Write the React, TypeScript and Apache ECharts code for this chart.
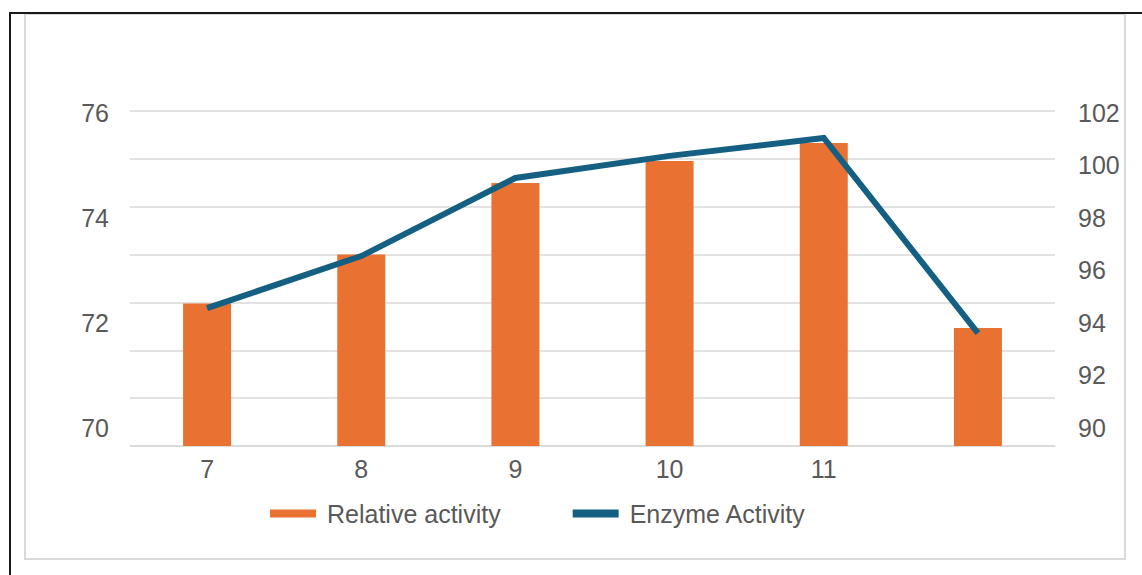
import React, { useEffect, useRef } from "react";
import * as echarts from "echarts";

const categories = ["7", "8", "9", "10", "11", "12"];
const xTickLabels = ["7", "8", "9", "10", "11", ""];
const relativeActivity = [72.37, 73.3, 74.66, 75.08, 75.42, 71.9];
const enzymeActivity = [94.56, 96.54, 99.51, 100.35, 101.03, 93.61];
const leftTicks = { min: 70, max: 76, interval: 2 };
const rightTicks = { min: 90, max: 102, interval: 2 };

// layout geometry (pixels)
const GRID_LEFT = 130;
const GRID_RIGHT_EDGE = 1055;
const PLOT_TOP = 111;
const PLOT_BOTTOM = 446;
const LABEL_TOP = 112.5;
const LABEL_BOTTOM = 428;

function extendRange(lo: number, hi: number) {
  const perUnit = (LABEL_BOTTOM - LABEL_TOP) / (hi - lo);
  return {
    min: lo - (PLOT_BOTTOM - LABEL_BOTTOM) / perUnit,
    max: hi + (LABEL_TOP - PLOT_TOP) / perUnit,
  };
}

const TEXT = "#595959";
const FONT = "Liberation Sans, Arial, sans-serif";
const FS = 25;

export default function App() {
  const ref = useRef<HTMLDivElement>(null);
  useEffect(() => {
    if (!ref.current) return;
    const chart = echarts.init(ref.current, undefined, { renderer: "svg" });
    const barRange = extendRange(leftTicks.min, leftTicks.max);
    const lineRange = extendRange(rightTicks.min, rightTicks.max);
    const gridWidth = GRID_RIGHT_EDGE - GRID_LEFT;
    chart.setOption({
      animation: false,
      backgroundColor: "#ffffff",
      textStyle: { fontFamily: FONT },
      graphic: [
        {
          type: "rect",
          shape: { x: 25, y: 14, width: 1100, height: 545 },
          style: { fill: "none", stroke: "#d9d9d9", lineWidth: 2 },
          z: 0,
        },
        {
          type: "line",
          shape: { x1: 9, y1: 13, x2: 1142, y2: 13 },
          style: { stroke: "#1a1a1a", lineWidth: 2 },
          z: 1,
        },
        {
          type: "line",
          shape: { x1: 10, y1: 12, x2: 10, y2: 575 },
          style: { stroke: "#1a1a1a", lineWidth: 2 },
          z: 1,
        },
      ],
      grid: [
        { left: GRID_LEFT, width: gridWidth, top: PLOT_TOP, height: PLOT_BOTTOM - PLOT_TOP },
        { left: GRID_LEFT, width: gridWidth, top: LABEL_TOP, height: LABEL_BOTTOM - LABEL_TOP },
      ],
      xAxis: [
        {
          type: "category",
          gridIndex: 0,
          data: categories,
          boundaryGap: true,
          axisLine: { lineStyle: { color: "#d9d9d9", width: 1.5 } },
          axisTick: { show: false },
          axisLabel: {
            color: TEXT,
            fontSize: FS,
            fontFamily: FONT,
            margin: 10,
            formatter: (_v: string, i: number) => xTickLabels[i],
          },
        },
        { type: "category", gridIndex: 1, data: categories, show: false },
      ],
      yAxis: [
        {
          type: "value",
          gridIndex: 0,
          min: barRange.min,
          max: barRange.max,
          show: false,
          splitLine: { show: false },
        },
        {
          type: "value",
          gridIndex: 0,
          min: lineRange.min,
          max: lineRange.max,
          show: false,
          splitLine: { show: false },
        },
        {
          type: "value",
          gridIndex: 0,
          min: 0,
          max: 7,
          interval: 1,
          axisLine: { show: false },
          axisTick: { show: false },
          axisLabel: { show: false },
          splitLine: { show: true, lineStyle: { color: "#d9d9d9", width: 1.5 } },
        },
        {
          type: "value",
          gridIndex: 1,
          position: "left",
          min: leftTicks.min,
          max: leftTicks.max,
          interval: leftTicks.interval,
          axisLine: { show: false },
          axisTick: { show: false },
          splitLine: { show: false },
          axisLabel: { color: TEXT, fontSize: FS, fontFamily: FONT, margin: 21 },
        },
        {
          type: "value",
          gridIndex: 1,
          position: "right",
          min: rightTicks.min,
          max: rightTicks.max,
          interval: rightTicks.interval,
          axisLine: { show: false },
          axisTick: { show: false },
          splitLine: { show: false },
          axisLabel: { color: TEXT, fontSize: FS, fontFamily: FONT, margin: 23 },
        },
      ],
      legend: {
        left: 265,
        top: 496,
        itemWidth: 46,
        itemHeight: 8,
        itemGap: 72,
        icon: "rect",
        textStyle: { color: TEXT, fontSize: FS, fontFamily: FONT, padding: [0, 0, 0, 6] },
        data: [
          { name: "Relative activity", icon: "rect" },
          { name: "Enzyme Activity", icon: "rect" },
        ],
      },
      series: [
        {
          name: "Relative activity",
          type: "bar",
          xAxisIndex: 0,
          yAxisIndex: 0,
          data: relativeActivity,
          barWidth: 48,
          itemStyle: { color: "#E97132" },
          z: 2,
        },
        {
          name: "Enzyme Activity",
          type: "line",
          xAxisIndex: 0,
          yAxisIndex: 1,
          data: enzymeActivity,
          showSymbol: false,
          symbol: "none",
          itemStyle: { color: "#156082" },
          lineStyle: { color: "#156082", width: 6, cap: "butt", join: "miter" },
          z: 3,
        },
      ],
    });
    return () => chart.dispose();
  }, []);
  return (
    <div
      ref={ref}
      style={{ position: "fixed", left: 0, top: 0, width: 1142, height: 575 }}
    />
  );
}
